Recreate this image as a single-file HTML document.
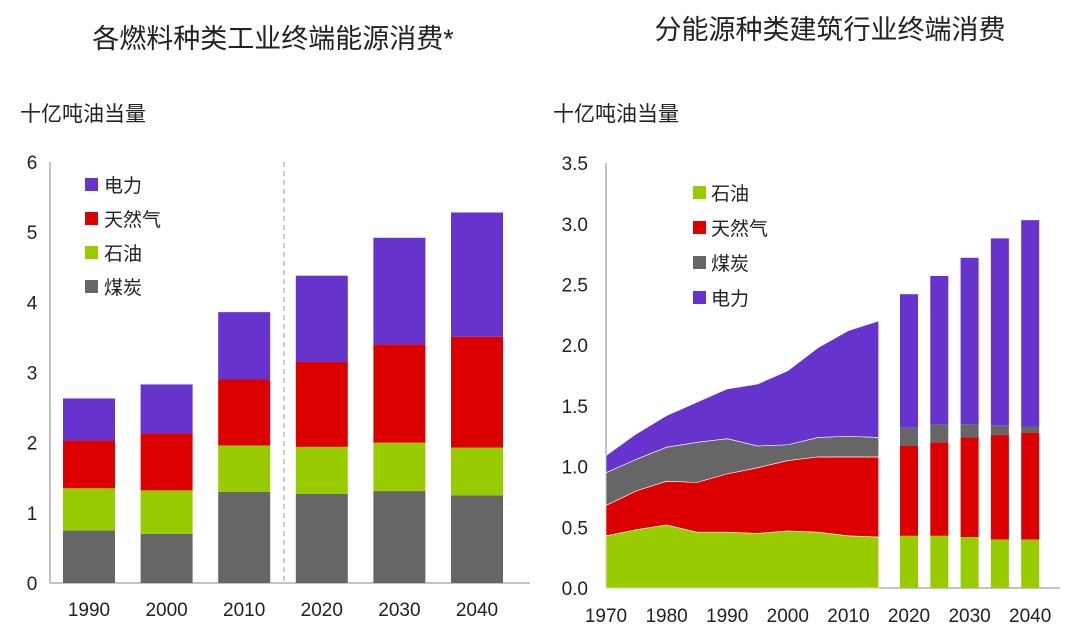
<!DOCTYPE html>
<html><head><meta charset="utf-8"><style>
body{margin:0;background:#fff;width:1080px;height:635px;overflow:hidden}
text{font-family:"Liberation Sans","Noto Sans CJK SC",sans-serif;fill:#222}
</style></head><body>
<svg id="c" width="1080" height="635">
<text x="273" y="48" font-size="27" text-anchor="middle">各燃料种类工业终端能源消费*</text>
<text x="830" y="39" font-size="27" text-anchor="middle">分能源种类建筑行业终端消费</text>
<text x="20" y="121" font-size="21">十亿吨油当量</text>
<text x="553" y="121" font-size="21">十亿吨油当量</text>
<g id="L"></g><g id="R"></g>
</svg>
<script>
const leftCats=["1990","2000","2010","2020","2030","2040"];
const leftCoal=[0.75,0.70,1.30,1.27,1.31,1.25];
const leftOil=[0.60,0.62,0.66,0.67,0.69,0.68];
const leftGas=[0.68,0.81,0.94,1.21,1.40,1.58];
const leftElec=[0.60,0.70,0.96,1.23,1.52,1.77];
const leftTicks=[0,1,2,3,4,5,6];

const areaYears=[1970,1975,1980,1985,1990,1995,2000,2005,2010,2015];
const areaOil=[0.43,0.48,0.52,0.46,0.46,0.45,0.47,0.46,0.43,0.42];
const areaGas=[0.25,0.32,0.36,0.41,0.48,0.54,0.58,0.62,0.65,0.66];
const areaCoal=[0.27,0.26,0.28,0.33,0.29,0.18,0.13,0.16,0.17,0.16];
const areaElec=[0.14,0.21,0.26,0.33,0.41,0.51,0.61,0.74,0.87,0.96];
const barYears=[2020,2025,2030,2035,2040];
const barOil=[0.43,0.43,0.42,0.40,0.40];
const barGas=[0.74,0.77,0.82,0.86,0.88];
const barCoal=[0.15,0.15,0.11,0.08,0.05];
const barElec=[1.10,1.22,1.37,1.54,1.70];
const rightTicks=[0,0.5,1.0,1.5,2.0,2.5,3.0,3.5];
const rightXTicks=[1970,1980,1990,2000,2010,2020,2030,2040];

const C={elec:"#6633cc",gas:"#dd0000",oil:"#99cc00",coal:"#666666"};
const NS="http://www.w3.org/2000/svg";
function mk(p,t,a){const e=document.createElementNS(NS,t);for(const k in a)e.setAttribute(k,a[k]);p.appendChild(e);return e;}
const L=document.getElementById('L'),R=document.getElementById('R');

const ly=v=>583-v*70.17;
const lx=i=>89+i*77.6;
mk(L,'line',{x1:50,y1:162,x2:50,y2:583,stroke:'#888'});
mk(L,'line',{x1:50,y1:583,x2:530,y2:583,stroke:'#888'});
leftTicks.forEach(t=>{const e=mk(L,'text',{x:32,y:ly(t)+7,'font-size':19,'text-anchor':'middle'});e.textContent=t;

});
mk(L,'line',{x1:284,y1:162,x2:284,y2:583,stroke:'#999','stroke-dasharray':'5,4'});
leftCats.forEach((c,i)=>{let b=0;
 [[leftCoal,C.coal,'coal'],[leftOil,C.oil,'oil'],[leftGas,C.gas,'gas'],[leftElec,C.elec,'elec']].forEach(([arr,col,n])=>{
  const v=arr[i];const r=mk(L,'rect',{x:lx(i)-26,y:ly(b+v),width:52,height:ly(b)-ly(b+v),fill:col});
  
  b+=v;});
 const t=mk(L,'text',{x:lx(i),y:616,'font-size':19,'text-anchor':'middle'});t.textContent=c;
 
 });
[["电力",C.elec],["天然气",C.gas],["石油",C.oil],["煤炭",C.coal]].forEach(([n,col],i)=>{
 const g=mk(L,'g',{});
 
 
 mk(g,'rect',{x:85,y:178+i*34,width:13,height:13,fill:col});
 const t=mk(g,'text',{x:104,y:192+i*34,'font-size':19});t.textContent=n;});

const ry=v=>588-v*121.4;
const rx=y=>606+(y-1970)*6.06;
mk(R,'line',{x1:606,y1:163,x2:606,y2:588,stroke:'#888'});
mk(R,'line',{x1:606,y1:588,x2:1060,y2:588,stroke:'#888'});
rightTicks.forEach(t=>{const e=mk(R,'text',{x:588,y:ry(t)+7,'font-size':19,'text-anchor':'end'});e.textContent=t.toFixed(1);

});
rightXTicks.forEach(t=>{const e=mk(R,'text',{x:rx(t),y:622,'font-size':19,'text-anchor':'middle'});e.textContent=t;

});
let base=areaYears.map(()=>0);
[[areaOil,C.oil,'oil'],[areaGas,C.gas,'gas'],[areaCoal,C.coal,'coal'],[areaElec,C.elec,'elec']].forEach(([arr,col,n])=>{
 const top=base.map((b,i)=>b+arr[i]);
 let d='M'+areaYears.map((y,i)=>rx(y)+','+ry(top[i])).join('L');
 d+='L'+areaYears.map((y,i)=>[y,i]).reverse().map(([y,i])=>rx(y)+','+ry(base[i])).join('L')+'Z';
 const p=mk(R,'path',{d:d,fill:col,stroke:'#fff','stroke-width':0.6});
 
 
 base=top;});
barYears.forEach((y,i)=>{let b=0;
 [[barOil,C.oil,'oil'],[barGas,C.gas,'gas'],[barCoal,C.coal,'coal'],[barElec,C.elec,'elec']].forEach(([arr,col,n])=>{
  const v=arr[i];const r=mk(R,'rect',{x:rx(y)-9,y:ry(b+v),width:18,height:ry(b)-ry(b+v),fill:col});
  
  b+=v;});});
[["石油",C.oil],["天然气",C.gas],["煤炭",C.coal],["电力",C.elec]].forEach(([n,col],i)=>{
 const g=mk(R,'g',{});
 
 
 mk(g,'rect',{x:693,y:186+i*35,width:13,height:13,fill:col});
 const t=mk(g,'text',{x:711,y:200+i*35,'font-size':19});t.textContent=n;});
</script>
</body></html>
